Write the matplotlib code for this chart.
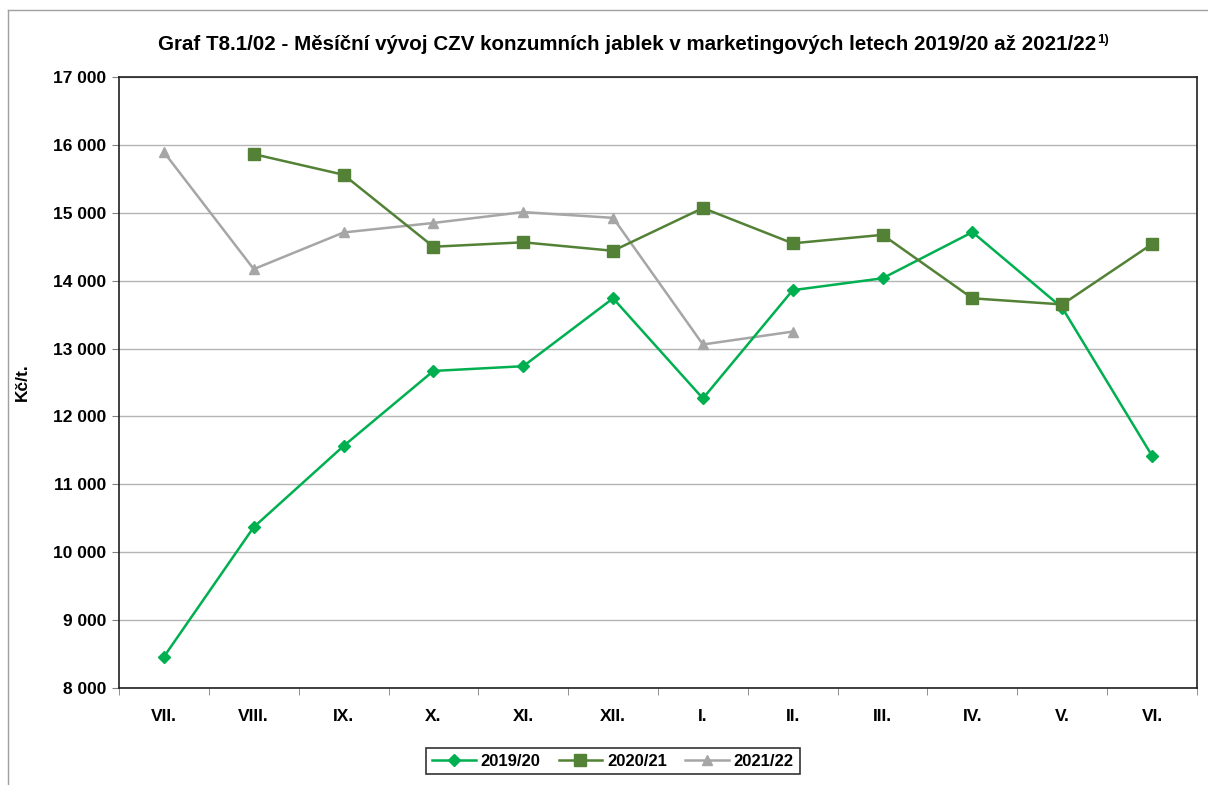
import matplotlib
matplotlib.use("Agg")
import matplotlib.pyplot as plt
from matplotlib.ticker import FuncFormatter, FixedLocator
import numpy as np

plt.rcParams['font.family'] = ['Liberation Sans', 'DejaVu Sans']

months = ["VII.", "VIII.", "IX.", "X.", "XI.", "XII.", "I.", "II.", "III.", "IV.", "V.", "VI."]
s2019 = [8460, 10370, 11565, 12670, 12740, 13740, 12265, 13860, 14035, 14715, 13600, 11420]
s2020 = [None, 15864, 15560, 14500, 14565, 14440, 15070, 14550, 14675, 13740, 13650, 14540]
s2021 = [15893, 14170, 14710, 14850, 15010, 14925, 13060, 13250]
labels = ["2019/20", "2020/21", "2021/22"]
title = "Graf T8.1/02 - Měsíční vývoj CZV konzumních jablek v marketingových letech 2019/20 až 2021/22"
title_note = "1)"

c1, c2, c3 = "#00B050", "#538135", "#A6A6A6"

fig = plt.figure(figsize=(12.08, 7.85), dpi=100)
ax = fig.add_axes([119/1208, 1-688/785, (1197-119)/1208, (688-77)/785])

x = np.arange(len(months))
y2020 = np.array([np.nan if v is None else v for v in s2020], dtype=float)

ax.plot(x, s2019, color=c1, lw=1.8, marker='D', ms=6.5, label=labels[0], zorder=3)
ax.plot(x, y2020, color=c2, lw=1.8, marker='s', ms=9, label=labels[1], zorder=4)
ax.plot(x[:len(s2021)], s2021, color=c3, lw=1.8, marker='^', ms=7.5, label=labels[2], zorder=2)

ax.set_xlim(-0.5, len(months) - 0.5)
ax.set_ylim(8000, 17000)
ax.set_yticks(np.arange(8000, 17001, 1000))
ax.yaxis.set_major_formatter(FuncFormatter(lambda v, p: f"{int(v):,}".replace(",", " ")))
ax.grid(axis='y', color='#B4B4B4', lw=1)
ax.set_axisbelow(True)

ax.set_xticks(x)
ax.set_xticklabels(months, fontweight='bold', fontsize=12.5)
ax.tick_params(axis='x', which='major', length=0, pad=15)
ax.xaxis.set_minor_locator(FixedLocator(np.arange(-0.5, len(months), 1.0)))
ax.tick_params(axis='x', which='minor', length=5, direction='out', color='#808080')
ax.tick_params(axis='y', length=5, direction='out', color='#808080', labelsize=12.5, pad=4)
for t in ax.get_yticklabels():
    t.set_fontweight('bold')

for sp in ax.spines.values():
    sp.set_color('#202020')
    sp.set_linewidth(1.2)

ax.set_ylabel("Kč/t.", fontweight='bold', fontsize=12.5)
ax.yaxis.set_label_coords(-(119-30)/(1197-119), 0.5)

ttl = fig.text(158/1208, 1-45/785, title, ha='left', va='center', fontsize=14.8, fontweight='bold')
fig.canvas.draw()
bb = ttl.get_window_extent(fig.canvas.get_renderer())
fig.text((bb.x1 + 1)/1208, 1-40/785, title_note, ha='left', va='center', fontsize=9.5, fontweight='bold')

leg = ax.legend(loc='center', bbox_to_anchor=(613/1208, 1-761/785), bbox_transform=fig.transFigure,
                ncol=3, frameon=True, fancybox=False, edgecolor='black',
                prop={'weight': 'bold', 'size': 12}, handlelength=2.6, columnspacing=1.1,
                handletextpad=0.3, borderpad=0.35)
leg.get_frame().set_linewidth(1.2)

# outer chart frame
fig.add_artist(plt.Line2D([8/1208, 8/1208], [0, 1-10/785], transform=fig.transFigure, color='#A0A0A0', lw=1))
fig.add_artist(plt.Line2D([8/1208, 1], [1-10/785, 1-10/785], transform=fig.transFigure, color='#A0A0A0', lw=1))

fig.savefig("out.png", dpi=100)
